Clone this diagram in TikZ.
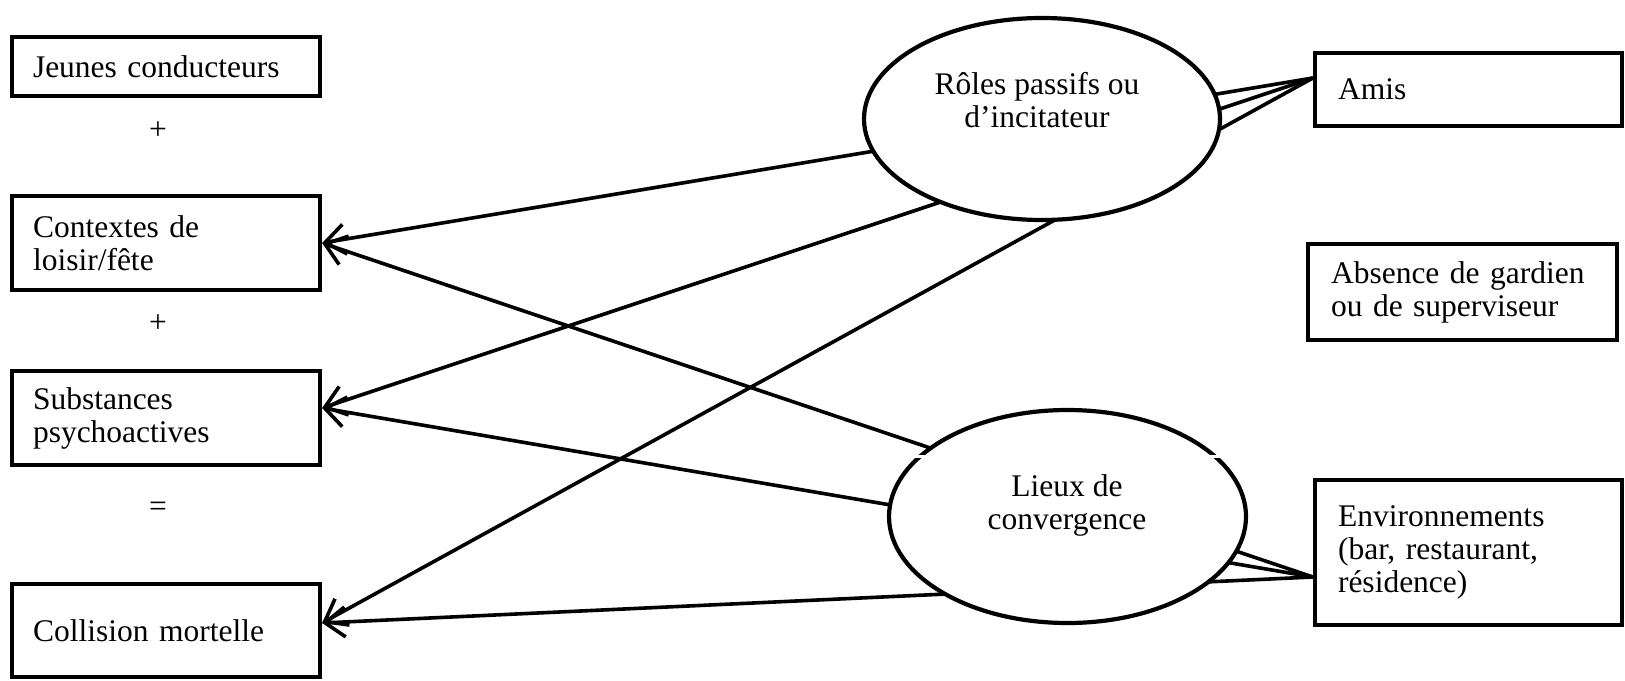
\documentclass[tikz,border=0pt]{standalone}
\usepackage{fontspec}
\setmainfont{Liberation Serif}
\usetikzlibrary{arrows.meta,shapes.geometric,calc}

\begin{document}
\begin{tikzpicture}[x=0.5pt,y=-0.5pt,
  every node/.style={font=\fontsize{15.75pt}{16.5pt}\selectfont},
  boxleft/.style={draw, line width=2.1pt, rectangle, minimum width=154pt,
    text width=133pt, inner xsep=10.5pt, inner ysep=1pt, align=left},
  boxright/.style={draw, line width=2.1pt, rectangle, minimum width=153.5pt,
    text width=130.5pt, inner xsep=11.5pt, inner ysep=1pt, align=left},
  oval/.style={draw, ellipse, line width=2.1pt, fill=white, inner sep=0pt},
  ovaltext/.style={align=center, inner sep=0pt},
  sign/.style={inner sep=0pt},
  link/.style={line width=1.8pt, -{Straight Barb[length=10pt,width=15pt]}}
]
\useasboundingbox (0,0) rectangle (1625,680);

% left column: the chain of factors
\node[boxleft, minimum height=29.5pt] (jeunes) at (166,66.5) {Jeunes conducteurs};
\node[sign] (plusA) at (158,131) {+};
\node[boxleft, minimum height=47pt] (ctx) at (166,243) {Contextes de\\loisir/fête};
\node[sign] (plusB) at (158,324) {+};
\node[boxleft, minimum height=47pt] (sub) at (166,418) {Substances\\psychoactives};
\node[sign] (equal) at (158,509) {=};
\node[boxleft, minimum height=46.5pt] (col) at (166,630.5) {Collision mortelle};

% right column
\node[boxright, minimum height=36.5pt] (amis) at (1468.5,89.5) {Amis};
\node[boxright, minimum width=154.5pt, text width=131.5pt, minimum height=48pt] (absence) at (1462.5,292)
  {Absence de gardien\\ou de superviseur};
\node[boxright, minimum height=72.5pt] (env) at (1468.5,552.5)
  {Environnements\\(bar, restaurant,\\résidence)};

% start and end points of the links
\coordinate (amisFan) at ([yshift=5.75pt]amis.west);
\coordinate (envFan) at ([yshift=-12.25pt]env.west);
\coordinate (ctxTip) at (ctx.east);
\coordinate (subTip) at ([yshift=5pt]sub.east);
\coordinate (colTip) at ([yshift=3.75pt]col.east);

% links, partly hidden under the ovals
\draw[link] (amisFan) -- (ctxTip);
\draw[link] (amisFan) -- (subTip);
\draw[link] (amisFan) -- (colTip);
\draw[link] (envFan) -- (ctxTip);
\draw[link] (envFan) -- (subTip);
\draw[link] (envFan) -- (colTip);

% ovals
\node[oval, minimum width=178pt, minimum height=101pt] (roles) at (1042,119) {};
\node[ovaltext] (rolesText) at (1037,100) {Rôles passifs ou\\d’incitateur};
\node[oval, minimum width=178.5pt, minimum height=106.5pt] (lieux) at (1067.5,516.5) {};
\node[ovaltext] (lieuxText) at (1067,505) {Lieux de\\convergence};

% small breaks in the outline of the lower oval
\fill[white] (911,455) rectangle (925,458);
\fill[white] (1208,455) rectangle (1224,458);
\end{tikzpicture}
\end{document}
